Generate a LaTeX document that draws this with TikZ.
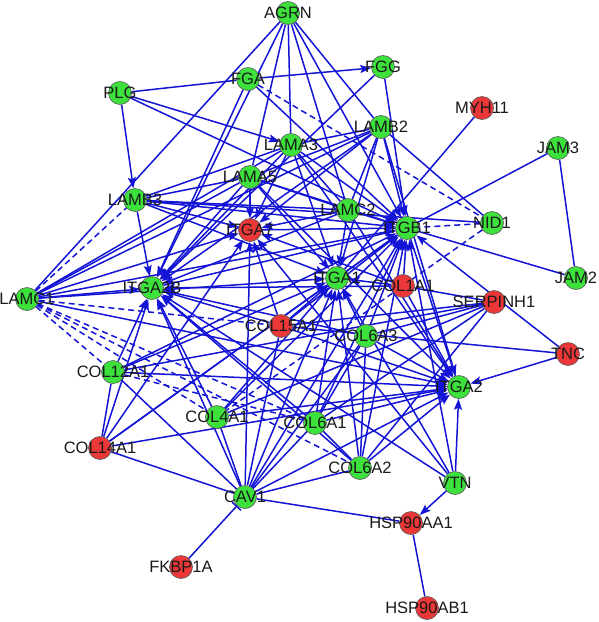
\documentclass[tikz,border=0pt]{standalone}
\usepackage{fontspec}
\setmainfont{Liberation Sans}
\usetikzlibrary{arrows.meta,backgrounds}
\definecolor{eblue}{RGB}{20,20,215}
\definecolor{ngreen}{RGB}{60,225,60}
\definecolor{nred}{RGB}{235,55,55}
\begin{document}
\begin{tikzpicture}[x=1pt,y=-1pt,
  gn/.style={circle,draw=black!65,line width=0.6pt,fill=ngreen,minimum size=23pt,inner sep=0pt},
  rn/.style={gn,fill=nred},
  lb/.style={font=\fontsize{16.5}{18}\selectfont,text=black!90,inner sep=0pt},
  e/.style={draw=eblue,line width=1.5pt},
  ar/.style={e,-{Stealth[length=11pt,width=8pt,inset=2pt]}},
  ln/.style={e},
  ds/.style={e,dash pattern=on 6pt off 4pt},
  tb/.style={e,-{Bar[width=12pt,line width=1.5pt]}}
]
\useasboundingbox (0,0) rectangle (598,622);
% nodes
\foreach \n/\x/\y in {AGRN/288/13,FGA/248/79,FGG/383/67,PLG/120/93,LAMB2/381/127,LAMA3/291/145,JAM3/558/148,LAMA5/250/177,LAMB3/135/200,LAMC2/348/210,ITGB1/407/228,NID1/492/223,ITGA1/337/278,JAM2/576/278,ITGA2B/152/288,LAMC1/27/299,COL6A3/366/336,COL12A1/113/372,ITGA2/459/387,COL4A1/217/417,COL6A1/315/423,COL6A2/360/468,VTN/455/483,CAV1/245/497}
  \node[gn] (\n) at (\x,\y) {};
\foreach \n/\x/\y in {MYH11/482/108,ITGA7/250/230,COL1A1/403/286,SERPINH1/494/302,COL15A1/281/326,TNC/568/354,COL14A1/100/448,HSP90AA1/411/523,FKBP1A/181/567,HSP90AB1/427/608}
  \node[rn] (\n) at (\x,\y) {};
\begin{pgfonlayer}{background}
% arrows
\foreach \a/\b in {FGA/FGG,PLG/LAMB3,PLG/LAMA3,PLG/ITGB1,
  AGRN/ITGA2B,AGRN/ITGB1,FGA/ITGA2B,FGA/ITGB1,FGG/ITGA2B,FGG/ITGB1,
  LAMB2/ITGA7,LAMB2/ITGA2B,LAMB2/ITGA1,LAMB2/ITGB1,LAMB2/ITGA2,
  LAMA3/ITGB1,LAMA3/ITGA7,LAMA3/ITGA2B,LAMA3/ITGA1,LAMA3/ITGA2,
  LAMA5/ITGA7,LAMA5/ITGB1,LAMA5/ITGA2B,LAMA5/ITGA1,LAMA5/ITGA2,
  LAMB3/ITGA2B,LAMB3/ITGA7,LAMB3/ITGB1,LAMB3/ITGA1,
  LAMC1/ITGA2B,LAMC1/ITGA7,LAMC1/ITGB1,LAMC1/ITGA1,LAMC1/ITGA2,
  LAMC2/ITGB1,LAMC2/ITGA7,LAMC2/ITGA2B,LAMC2/ITGA1,LAMC2/ITGA2,
  COL1A1/ITGB1,COL1A1/ITGA1,COL1A1/ITGA2,COL1A1/ITGA2B,COL1A1/ITGA7,
  COL4A1/ITGB1,COL4A1/ITGA1,COL4A1/ITGA2,COL4A1/ITGA2B,
  COL6A1/ITGB1,COL6A1/ITGA1,COL6A1/ITGA2,COL6A1/ITGA2B,
  COL6A2/ITGB1,COL6A2/ITGA1,COL6A2/ITGA2,COL6A2/ITGA2B,
  COL6A3/ITGB1,COL6A3/ITGA1,COL6A3/ITGA2,COL6A3/ITGA2B,
  COL12A1/ITGA2B,COL12A1/ITGA1,COL12A1/ITGB1,COL12A1/ITGA2,
  COL14A1/ITGA2B,COL14A1/ITGA7,COL14A1/ITGA1,COL14A1/ITGB1,COL14A1/ITGA2,
  COL15A1/ITGB1,COL15A1/ITGA1,COL15A1/ITGA2,COL15A1/ITGA2B,COL15A1/ITGA7,
  TNC/ITGB1,TNC/ITGA2,
  CAV1/ITGA2B,CAV1/ITGA7,CAV1/ITGA1,CAV1/ITGB1,CAV1/ITGA2,
  VTN/ITGA2,VTN/HSP90AA1,VTN/ITGB1,VTN/ITGA1,VTN/ITGA2B,VTN/ITGA7}
  \draw[ar] (\a) -- (\b);
% plain lines
\foreach \a/\b in {PLG/FGA,AGRN/LAMC1,AGRN/LAMA3,AGRN/LAMB2,AGRN/LAMC2,AGRN/LAMA5,
  MYH11/ITGA1,JAM3/ITGB1,JAM3/JAM2,JAM2/ITGB1,NID1/LAMB2,LAMB3/NID1,
  LAMB2/LAMA3,LAMB2/LAMA5,LAMB2/LAMC1,LAMB2/LAMC2,
  LAMA3/LAMB3,LAMA3/LAMC2,LAMA3/LAMC1,LAMA5/LAMC1,LAMA5/LAMC2,LAMA5/LAMB3,LAMB3/LAMC2,
  COL1A1/SERPINH1,COL4A1/SERPINH1,COL4A1/CAV1,COL6A1/COL6A2,COL6A1/CAV1,COL6A1/COL6A3,
  COL6A2/COL6A3,COL6A2/CAV1,COL6A3/SERPINH1,COL12A1/CAV1,COL12A1/SERPINH1,
  COL14A1/CAV1,COL14A1/COL12A1,COL15A1/CAV1,COL15A1/SERPINH1,SERPINH1/COL6A1,SERPINH1/COL6A2,
  TNC/COL15A1,CAV1/HSP90AA1,CAV1/COL6A3,HSP90AA1/HSP90AB1,
  ITGB1/ITGA1,ITGB1/ITGA2,ITGB1/ITGA7,ITGB1/ITGA2B}
  \draw[ln] (\a) -- (\b);
% dashed
\foreach \a/\b in {FGA/NID1,NID1/ITGB1,NID1/COL4A1,LAMC1/LAMB3,LAMC1/COL15A1,LAMC1/COL12A1,LAMC1/COL4A1,LAMC1/COL6A2,LAMC1/COL6A1,COL12A1/COL6A1}
  \draw[ds] (\a) -- (\b);
\draw[tb] (FKBP1A) -- (CAV1);
\end{pgfonlayer}
% labels
\foreach \n in {AGRN,FGA,FGG,PLG,LAMB2,LAMA3,JAM3,LAMA5,LAMB3,LAMC2,ITGB1,NID1,ITGA1,JAM2,ITGA2B,LAMC1,COL6A3,COL12A1,ITGA2,COL4A1,COL6A1,COL6A2,VTN,CAV1,MYH11,ITGA7,COL1A1,SERPINH1,COL15A1,TNC,COL14A1,HSP90AA1,FKBP1A,HSP90AB1}
  \node[lb] at (\n) {\n};
\end{tikzpicture}
\end{document}
